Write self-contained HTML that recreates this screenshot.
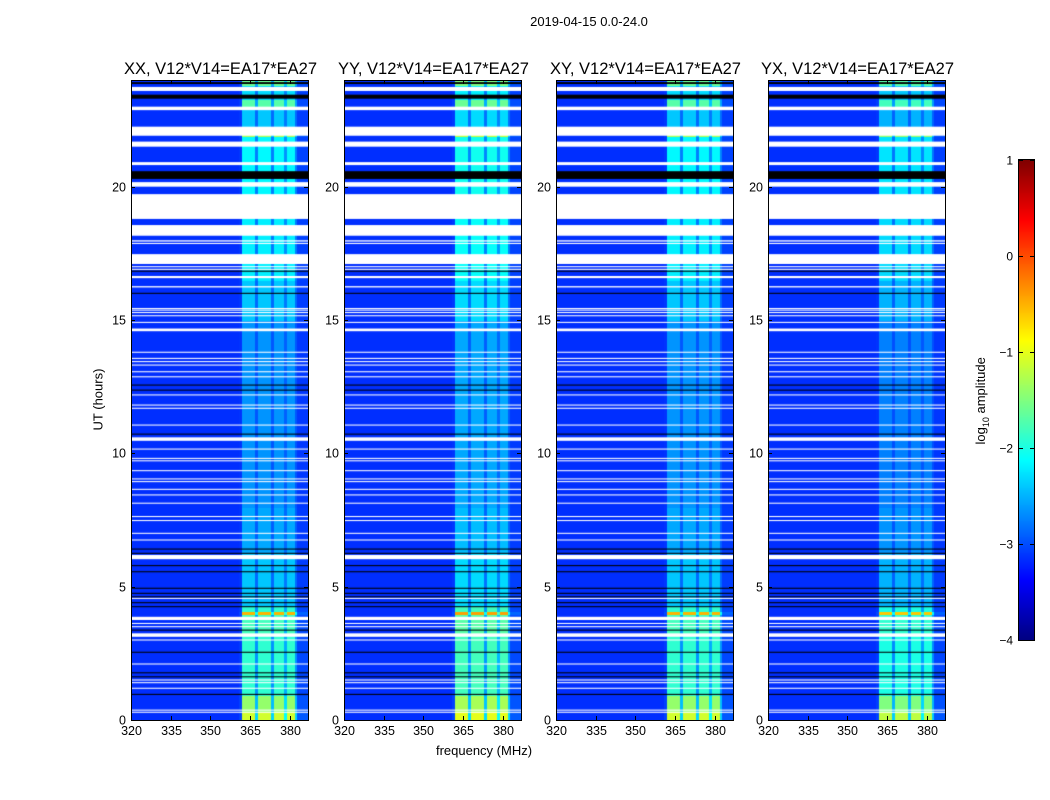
<!DOCTYPE html>
<html><head><meta charset="utf-8">
<style>
body{margin:0;background:#fff;}
#wrap{position:relative;width:1050px;height:800px;background:#fff;font-family:"Liberation Sans",sans-serif;color:#000;overflow:hidden;}
.t{position:absolute;white-space:nowrap;}
canvas{position:absolute;}
</style></head>
<body>
<div id="wrap">
<div class="t" style="left:489px;top:14px;width:200px;text-align:center;font-size:13px;">2019-04-15 0.0-24.0</div>
<div class="t" style="left:384px;top:743px;width:200px;text-align:center;font-size:13px;">frequency (MHz)</div>
<div class="t" style="left:48px;top:392px;width:100px;text-align:center;font-size:13px;transform:rotate(-90deg);">UT (hours)</div>
<div class="t" style="left:922px;top:392px;width:120px;text-align:center;font-size:13px;transform:rotate(-90deg);">log<sub style="font-size:9px">10</sub> amplitude</div>
<canvas id="cbar" width="15" height="480" style="left:1019px;top:160px;border:1px solid #000;box-sizing:content-box;margin:-1px;"></canvas>
<svg id="ov" width="1050" height="800" style="position:absolute;left:0;top:0"></svg>
</div>
<script>
// ---- data ----
const panelNames = ["XX","YY","XY","YX"];
const panelTitles = ["XX, V12*V14=EA17*EA27","YY, V12*V14=EA17*EA27","XY, V12*V14=EA17*EA27","YX, V12*V14=EA17*EA27"];
const xTicks = [320,335,350,365,380];
const yTicks = [0,5,10,15,20];
const cbTicks = [1,0,-1,-2,-3,-4];
// channel weights, one per MHz from 320 to 386
const chanWeight = [0,0,0,0,0,0,0,0,0,0, 0,0,0,0,0,0,0,0,0,0, 0,0,0,0,0,0,0,0,0,0, 0,0,0,0,0,0,0,0,0,0, 0,0.05,1,1,1,1,1,0.4,1,1, 1,1,1,0.4,1,1,1,1,0.5,1, 1,1,0.4,0.1,0.1,0.1,0.1];
const bgLevel = [-3.15,-3.15,-3.15,-3.15];
// band level by time segment (hours)
const bandStart = [0,0.35,0.95,3.2,4.0,4.1,4.3,6.3,8,15,16.5,19,21.9,22,23,23.3,23.8];
const bandEnd   = [0.35,0.95,3.2,4.0,4.1,4.3,6.3,8,15,16.5,19,21.9,22,23,23.3,23.8,24];
const bandLevel = [-1.1,-1.4,-1.9,-1.8,-0.5,-1.9,-2.4,-2.55,-2.65,-2.4,-2.2,-2.15,-1.3,-2.4,-1.7,-2.3,-1.6];
const panelShift = [0,0.1,0,-0.1];
// flagged (white) intervals in hours
const whiteStart=[23.59,22.87,21.91,21.5,20.81,20.0,18.79,18.16,17.85,17.94,17.1,16.88,16.98,16.57,16.22,15.41,15.35,15.26,15.14,14.89,14.58,13.77,13.54,13.42,13.29,13.04,12.85,12.17,11.79,11.67,11.04,10.47,10.14,9.79,9.70,9.33,9.02,8.92,8.63,8.42,8.11,7.61,7.46,6.98,6.73,6.03,4.54,3.75,3.60,3.48,3.12,2.98,2.08,1.48,1.38,1.17,0.35,0.27];
const whiteEnd  =[23.74,23.0,22.25,21.69,20.92,20.17,19.72,18.56,17.89,17.99,17.47,16.92,17.02,16.65,16.27,15.45,15.39,15.30,15.18,14.93,14.68,13.81,13.58,13.46,13.33,13.08,12.89,12.21,11.83,11.71,11.08,10.60,10.18,9.83,9.74,9.37,9.06,8.96,8.67,8.46,8.15,7.65,7.50,7.02,6.77,6.19,4.58,3.87,3.64,3.52,3.25,3.02,2.12,1.52,1.42,1.21,0.39,0.31];
// black rows
const blackStart=[23.85,23.3,20.29,16.81,15.98,12.54,12.35,10.70,6.39,6.23,5.77,5.54,4.92,4.73,4.60,4.38,4.23,3.35,2.52,1.75,1.60,0.94];
const blackEnd  =[23.92,23.45,20.58,16.85,16.02,12.58,12.39,10.74,6.43,6.27,5.81,5.58,4.96,4.77,4.64,4.42,4.27,3.39,2.56,1.79,1.64,0.98];
// ---- layout ----
const panelX=[131,344,556,768], PW=177, PT=80, PB=720, HMAX=24, FMIN=320, FMAX=386.8;
function xs(p,f){return panelX[p]+(f-FMIN)/(FMAX-FMIN)*PW;}
function ys(h){return PB-h/HMAX*(PB-PT);}
function jet(v){let x=(v+4)/5;x=Math.max(0,Math.min(1,x));
 const c=t=>Math.round(255*Math.max(0,Math.min(1,1.5-Math.abs(4*x-t))));
 return `rgb(${c(3)},${c(2)},${c(1)})`;}
const wrap=document.getElementById('wrap');
const ov=document.getElementById('ov');
const NS="http://www.w3.org/2000/svg";
function mk(tag,attrs,parent){const e=document.createElementNS(NS,tag);for(const k in attrs)e.setAttribute(k,attrs[k]);(parent||ov).appendChild(e);return e;}
const DT=0.05;
for(let p=0;p<4;p++){
 const cv=document.createElement('canvas');
 
 
 cv.width=PW;cv.height=PB-PT;cv.style.left=panelX[p]+'px';cv.style.top=PT+'px';
 wrap.insertBefore(cv,ov);
 const ctx=cv.getContext('2d');
 for(let t=0;t<HMAX;t+=DT){
  const tm=t+DT/2;
  let bl=-3;
  for(let i=0;i<bandStart.length;i++) if(tm>=bandStart[i]&&tm<bandEnd[i]) bl=bandLevel[i]+panelShift[p];
  const y0=ys(t+DT)-PT, y1=ys(t)-PT;
  for(let c=0;c<chanWeight.length;c++){
   const f=FMIN+c;
   const v=bgLevel[p]+chanWeight[c]*(bl-bgLevel[p]);
   ctx.fillStyle=jet(v);
   const x0=xs(p,f)-panelX[p], x1=xs(p,Math.min(f+1,FMAX))-panelX[p];
   ctx.fillRect(Math.floor(x0),Math.floor(y0),Math.ceil(x1-x0)+1,Math.ceil(y1-y0)+1);
  }
 }
 ctx.fillStyle='#000';
 for(let i=0;i<blackStart.length;i++){const a=ys(blackEnd[i])-PT,b=ys(blackStart[i])-PT;ctx.fillRect(0,a,PW,Math.max(1,b-a));}
 ctx.fillStyle='#fff';
 for(let i=0;i<whiteStart.length;i++){const a=ys(whiteEnd[i])-PT,b=ys(whiteStart[i])-PT;ctx.fillRect(0,a,PW,Math.max(1,b-a));}
 // frame & ticks
 const fr=mk('rect',{x:panelX[p]+0.5,y:PT+0.5,width:PW,height:PB-PT,fill:'none',stroke:'#000','stroke-width':1});
 
 
 const tt=mk('text',{x:panelX[p]+PW/2+1,y:PT-6,'text-anchor':'middle','font-size':16.5,'font-family':'Liberation Sans, sans-serif'});
 tt.textContent=panelTitles[p];
 
 
 for(const f of xTicks){const x=Math.round(xs(p,f))+0.5;
  mk('line',{x1:x,x2:x,y1:PB,y2:PB-4,stroke:'#000'});mk('line',{x1:x,x2:x,y1:PT,y2:PT+4,stroke:'#000'});
  const l=mk('text',{x:x,y:PB+15,'text-anchor':'middle','font-size':12.5,'font-family':'Liberation Sans, sans-serif'});l.textContent=f;
  
  }
 for(const h of yTicks){const y=Math.round(ys(h))+0.5;
  mk('line',{x1:panelX[p],x2:panelX[p]+4,y1:y,y2:y,stroke:'#000'});mk('line',{x1:panelX[p]+PW,x2:panelX[p]+PW-4,y1:y,y2:y,stroke:'#000'});
  const l=mk('text',{x:panelX[p]-5,y:y+4,'text-anchor':'end','font-size':12.5,'font-family':'Liberation Sans, sans-serif'});l.textContent=h;
  
  }
}
// colorbar
const cb=document.getElementById('cbar').getContext('2d');
for(let i=0;i<480;i++){cb.fillStyle=jet(1-i/480*5);cb.fillRect(0,i,15,1);}
for(const v of cbTicks){const y=Math.round(160+(1-v)/5*480)+0.5;
 mk('line',{x1:1019,x2:1023,y1:y,y2:y,stroke:'#000'});mk('line',{x1:1030,x2:1034,y1:y,y2:y,stroke:'#000'});
 const l=mk('text',{x:1013,y:y+4,'text-anchor':'end','font-size':12,'font-family':'Liberation Sans, sans-serif'});l.textContent=v<0?'\u2212'+(-v):v;
 
 }
</script>
</body></html>
